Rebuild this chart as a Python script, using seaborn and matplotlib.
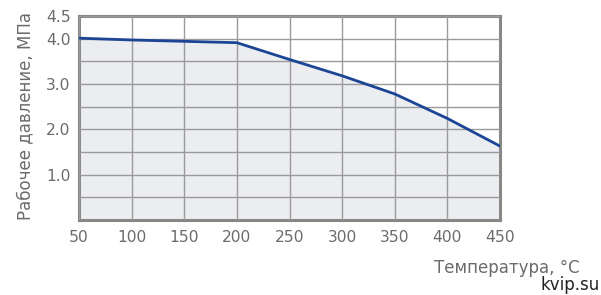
import numpy as np
import pandas as pd
import matplotlib

matplotlib.use("Agg")
import matplotlib.pyplot as plt
import seaborn as sns

# data
temperature = [50, 100, 150, 200, 250, 300, 350, 400, 450]
pressure = [4.01, 3.97, 3.94, 3.91, 3.54, 3.18, 2.78, 2.24, 1.63]

y_ticks = [0.5, 1.0, 1.5, 2.0, 2.5, 3.0, 3.5, 4.0, 4.5]
y_labels = ["", "1.0", "", "2.0", "", "3.0", "", "4.0", "4.5"]
x_ticks = [50, 100, 150, 200, 250, 300, 350, 400, 450]

df = pd.DataFrame({"t": temperature, "p": pressure})

sns.set_theme(style="white")
plt.rcParams["font.family"] = ["DejaVu Sans"]

text_col = "#6b6b6b"
grid_col = "#9a9a9a"

fig = plt.figure(figsize=(6.01, 2.95), dpi=100)
ax = fig.add_axes([0.1314, 0.254, 0.7006, 0.692])

ax.fill_between(df["t"], df["p"], 0, color="#ecedf0", zorder=0)
sns.lineplot(data=df, x="t", y="p", ax=ax, color="#1c4596", linewidth=2.0, zorder=3)

ax.set_xlim(50, 450)
ax.set_ylim(0, 4.5)
ax.set_xticks(x_ticks)
ax.set_yticks(y_ticks)
ax.set_yticklabels(y_labels)
ax.grid(True, color=grid_col, linewidth=1.0)
ax.set_axisbelow(False)
for line in ax.get_xgridlines() + ax.get_ygridlines():
    line.set_zorder(1)

for s in ax.spines.values():
    s.set_color("#878787")
    s.set_linewidth(2.2)

ax.tick_params(axis="both", length=0, labelsize=11.2, colors=text_col)
ax.tick_params(axis="x", pad=7)
ax.tick_params(axis="y", pad=6)
ax.set_xlabel("")
ax.set_ylabel("Рабочее давление, МПа", fontsize=12, color=text_col)
ax.yaxis.set_label_coords(-0.106, 0.51)

fig.text(0.965, 0.092, "Температура, °C", fontsize=12, color=text_col, ha="right", va="center")
fig.text(0.998, 0.035, "kvip.su", fontsize=12, color="#222222", ha="right", va="center")

plt.savefig("out.png", dpi=100)
